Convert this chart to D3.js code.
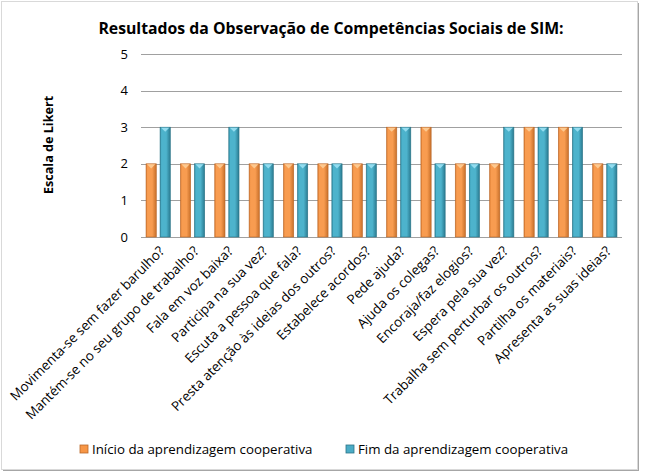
<!DOCTYPE html>
<html><head><meta charset="utf-8">
<script src="https://cdn.jsdelivr.net/npm/d3@7/dist/d3.min.js"></script>
<style>html,body{margin:0;padding:0;background:#fff}svg{display:block}text{font-family:"Open Sans",sans-serif;fill:#000}</style>
</head><body>
<svg id="c" width="646" height="476"></svg>
<script>
const categories = [
  "Movimenta-se sem fazer barulho?",
  "Mantém-se no seu grupo de trabalho?",
  "Fala em voz baixa?",
  "Participa na sua vez?",
  "Escuta a pessoa que fala?",
  "Presta atenção às ideias dos outros?",
  "Estabelece acordos?",
  "Pede ajuda?",
  "Ajuda os colegas?",
  "Encoraja/faz elogios?",
  "Espera pela sua vez?",
  "Trabalha sem perturbar os outros?",
  "Partilha os materiais?",
  "Apresenta as suas ideias?"
];
const inicio = [2,2,2,2,2,2,2,3,3,2,2,3,3,2];
const fim    = [3,2,3,2,2,2,2,3,2,2,3,3,3,2];
const seriesNames = ["Início da aprendizagem cooperativa","Fim da aprendizagem cooperativa"];
const yTicks = [0,1,2,3,4,5];
const title = "Resultados da Observação de Competências Sociais de SIM:";
const yTitle = "Escala de Likert";

const svg = d3.select("#c");
const W = 646, H = 476;
const m = {left:141, right:W-622, top:54, bottom:H-237};

// frame
svg.append("rect").attr("x",3).attr("y",3).attr("width",636).attr("height",468).attr("fill","#a6a6a6");
svg.append("rect").attr("x",1.5).attr("y",1.5).attr("width",636).attr("height",468).attr("fill","#fff").attr("stroke","#d9d9d9").attr("stroke-width",1);

const defs = svg.append("defs");
function grad(id, c1, c2, c3){
  const g = defs.append("linearGradient").attr("id",id).attr("x1","0").attr("x2","1").attr("y1","0").attr("y2","0");
  g.append("stop").attr("offset","0").attr("stop-color",c1);
  g.append("stop").attr("offset","0.15").attr("stop-color",c2);
  g.append("stop").attr("offset","0.6").attr("stop-color",c2);
  g.append("stop").attr("offset","1").attr("stop-color",c3);
}
grad("gO","#d9792e","#f89c50","#c8702a");
grad("gB","#2f8ba3","#4db3cc","#2a7a90");
const colors = [{fill:"url(#gO)",top:"#fcc990",edge:"#b9682a",leg:"#f79646"},{fill:"url(#gB)",top:"#93dcef",edge:"#2b7487",leg:"#4bacc6"}];

const x = d3.scaleBand().domain(categories).range([m.left, W-m.right]).paddingInner(0).paddingOuter(0);
const inner = d3.scaleBand().domain([0,1]).range([0, x.bandwidth()]).paddingInner(0.27).paddingOuter(0.36);
const y = d3.scaleLinear().domain([0,5]).range([H-m.bottom, m.top]);

// gridlines
const g = svg.append("g");
g.selectAll("line.grid").data(yTicks).join("line")
  .attr("x1",m.left).attr("x2",W-m.right)
  .attr("y1",d=>Math.round(y(d))+0.5).attr("y2",d=>Math.round(y(d))+0.5)
  .attr("stroke","#a0a0a0").attr("stroke-width",1);

// y tick labels
const yAxis = d3.axisLeft(y).tickValues(yTicks).tickSize(0).tickPadding(13).tickFormat(d3.format("d"));
const ya = svg.append("g").attr("transform",`translate(${m.left},0)`).call(yAxis);
ya.select(".domain").remove();
ya.selectAll("text").style("font-family","'Open Sans',sans-serif").style("font-size","13px").attr("fill","#000");

// bars
const data = [];
categories.forEach((c,i)=>{ [inicio[i],fim[i]].forEach((v,s)=>data.push({c,s,v})); });
const bars = svg.append("g").selectAll("g.bar").data(data).join("g");
bars.each(function(d){
  const gg = d3.select(this);
  const bx = x(d.c)+inner(d.s), bw = inner.bandwidth();
  const y0 = y(0), y1 = y(d.v);
  gg.append("rect").attr("x",bx).attr("y",y1).attr("width",bw).attr("height",y0-y1)
    .attr("fill",colors[d.s].fill).attr("stroke",colors[d.s].edge).attr("stroke-width",0.6);
  gg.append("path").attr("d",`M${bx+1},${y1+0.5} L${bx+bw-1},${y1+0.5} L${bx+bw/2},${y1+bw*0.45} Z`)
    .attr("fill",colors[d.s].top);
});

// x labels
const xl = svg.append("g");
xl.selectAll("text").data(categories).join("text")
  .attr("text-anchor","end")
  .attr("transform",d=>`translate(${x(d)+x.bandwidth()/2+7},${y(0)+15}) rotate(-45)`)
  .style("font-size","13.4px")
  .text(d=>d);

// title
svg.append("text").attr("x",331).attr("y",34).attr("text-anchor","middle")
  .style("font-size","15.8px").style("font-weight","bold").text(title);

// y title
svg.append("text").attr("transform","translate(53,145) rotate(-90)").attr("text-anchor","middle")
  .style("font-size","12.6px").style("font-weight","bold").text(yTitle);

// legend
const lg = svg.append("g");
const legX = [80, 346];
seriesNames.forEach((n,i)=>{
  lg.append("rect").attr("x",legX[i]).attr("y",445).attr("width",8).attr("height",8)
    .attr("fill",colors[i].leg).attr("stroke",colors[i].edge).attr("stroke-width",0.8);
  lg.append("text").attr("x",legX[i]+12).attr("y",454).style("font-size","13.3px").text(n);
});
</script>
</body></html>
